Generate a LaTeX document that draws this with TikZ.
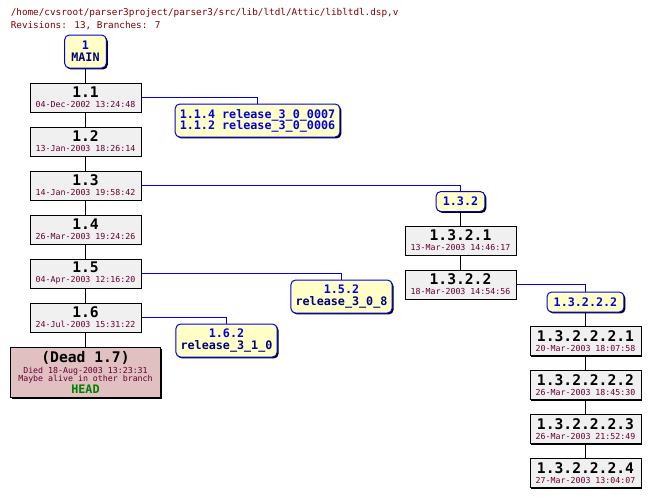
\documentclass[tikz,border=0pt]{standalone}
\usepackage{fontspec}
\setmainfont{DejaVu Sans Mono}
\usetikzlibrary{positioning,shadows}
\definecolor{revfill}{HTML}{F0F0F0}
\definecolor{tagfill}{HTML}{FFFFC8}
\definecolor{tagblue}{HTML}{0000E0}
\definecolor{linkblue}{HTML}{0000E0}
\definecolor{tagnavy}{HTML}{000080}
\definecolor{datered}{HTML}{660033}
\definecolor{hdrred}{HTML}{800000}
\definecolor{deadfill}{HTML}{E0C0C0}
\definecolor{headgreen}{HTML}{008000}
\def\numfont{\fontsize{11}{7.5}\selectfont\bfseries}
\def\datefont{\fontsize{6.2}{7.5}\selectfont\lineskiplimit=-20pt}
\def\deadfont{\fontsize{6.2}{6}\selectfont\lineskiplimit=-20pt}
\def\hdrfont{\fontsize{7}{9.75}\selectfont\lineskiplimit=-20pt}
\def\tagfont{\fontsize{8.8}{9}\selectfont\bfseries\lineskiplimit=-20pt}
\def\revtext#1#2{{\numfont #1}\\{\color{datered}#2}}
\def\tagtext#1#2{#1\\{\color{tagnavy}#2}}
\tikzset{shadowed/.style={drop shadow={shadow xshift=1.1pt,shadow yshift=-1.1pt,opacity=1,fill=black}}}
\tikzset{rev/.style={draw,fill=revfill,line width=0.75pt,minimum width=83.25pt,minimum height=21.75pt,inner sep=0pt,align=center,font=\datefont,shadowed}}
\tikzset{tag/.style={draw=linkblue,fill=tagfill,text=tagblue,line width=0.75pt,rounded corners=3.5pt,inner xsep=3.5pt,inner ysep=0pt,minimum height=15pt,align=center,font=\tagfont,shadowed}}
\tikzset{tall/.style={minimum height=24.75pt}}
\tikzset{trunkline/.style={black,line width=0.75pt}}
\tikzset{branchline/.style={linkblue,line width=0.8pt}}

\begin{document}
\begin{tikzpicture}[x=0.75pt,y=-0.75pt,node distance=33pt,on grid]
        \useasboundingbox (0,0) rectangle (650,497);
        \node(title)[anchor=north west,inner sep=0pt,align=left,text=hdrred,font=\hdrfont] at (10.5,8)
          {/home/cvsroot/parser3project/parser3/src/lib/ltdl/Attic/libltdl.dsp,v\\Revisions: 13, Branches: 7};
        % trunk
        \node(main)[tag,tall,inner xsep=5pt] at (85.5,51.5){\tagtext{1}{MAIN}};
        \node(r11)[rev,below=34.5pt of main]{\revtext{1.1}{04-Dec-2002 13:24:48}};
        \node(r12)[rev,below=of r11]{\revtext{1.2}{13-Jan-2003 18:26:14}};
        \node(r13)[rev,below=of r12]{\revtext{1.3}{14-Jan-2003 19:58:42}};
        \node(r14)[rev,below=of r13]{\revtext{1.4}{26-Mar-2003 19:24:26}};
        \node(r15)[rev,below=of r14]{\revtext{1.5}{04-Apr-2003 12:16:20}};
        \node(r16)[rev,below=of r15]{\revtext{1.6}{24-Jul-2003 15:31:22}};
        \node(dead)[rev,fill=deadfill,minimum width=112.5pt,minimum height=37.5pt,
          font=\deadfont,text=datered,below=41.25pt of r16]
          {{\numfont\color{black}(Dead 1.7)}\\[2.25pt]Died 18-Aug-2003 13:23:31\\Maybe alive in other branch\\[3pt]{\tagfont\color{headgreen}HEAD}};
        % branch tags
        \node(t114)[tag,tall] at (257.5,120.5){1.1.4 release\_3\_0\_0007\\[-0.75pt]1.1.2 release\_3\_0\_0006};
        \node(t152)[tag,tall] at (341.5,296.5){\tagtext{1.5.2}{release\_3\_0\_8}};
        \node(t162)[tag,tall] at (226.5,340.5){\tagtext{1.6.2}{release\_3\_1\_0}};
        % branch 1.3.2
        \node(t132)[tag,inner xsep=5pt] at (460.5,201.5){1.3.2};
        \node(r1321)[rev,below=29.25pt of t132]{\revtext{1.3.2.1}{13-Mar-2003 14:46:17}};
        \node(r1322)[rev,below=of r1321]{\revtext{1.3.2.2}{18-Mar-2003 14:54:56}};
        % branch 1.3.2.2.2
        \node(t13222)[tag,inner xsep=5pt] at (585.5,302){1.3.2.2.2};
        \node(r132221)[rev,below=29.25pt of t13222]{\revtext{1.3.2.2.2.1}{20-Mar-2003 18:07:58}};
        \node(r132222)[rev,below=of r132221]{\revtext{1.3.2.2.2.2}{26-Mar-2003 18:45:30}};
        \node(r132223)[rev,below=of r132222]{\revtext{1.3.2.2.2.3}{26-Mar-2003 21:52:49}};
        \node(r132224)[rev,below=of r132223]{\revtext{1.3.2.2.2.4}{27-Mar-2003 13:04:07}};
        \draw[trunkline]
        (main) -- (r11) -- (r12) -- (r13) -- (r14) -- (r15) -- (r16) -- (dead)
        (t132) -- (r1321) -- (r1322)
        (t13222) -- (r132221) -- (r132222) -- (r132223) -- (r132224);
        \draw[branchline]
        (r11) -| (t114)
        (r13) -| (t132)
        (r15) -| (t152)
        (r16) -| (t162)
        (r1322) -| (t13222);
      \end{tikzpicture}
\end{document}
